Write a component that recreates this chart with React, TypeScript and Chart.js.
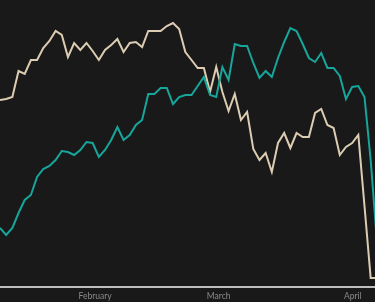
import { useEffect, useRef } from "react";
import { Chart, registerables } from "chart.js";
Chart.register(...registerables);

const monthTicks = [15.4, 35.4, 57.1];
const monthLabels = ["February", "March", "April"];

const beige = [
  187, 188, 190, 216, 213, 227, 227, 239, 246, 256, 252, 230, 244, 237, 244, 236, 227, 237, 242, 248,
  235, 244, 245, 240, 256, 256, 256, 261, 264, 258, 235, 227, 219, 219, 195, 220, 195, 176, 193, 167,
  175, 138, 127, 134, 115, 144, 154, 139, 154, 150, 150, 174, 178, 162, 159, 132, 140, 144, 152, 81,
  9, 9,
];

const teal = [
  59, 52, 59, 74, 87, 92, 110, 118, 121, 127, 136, 135, 132, 137, 145, 144, 130, 137, 147, 160,
  147, 152, 162, 167, 193, 193, 199, 199, 183, 190, 192, 192, 201, 210, 192, 190, 220, 207, 243, 241,
  241, 224, 209, 216, 210, 229, 245, 259, 256, 243, 229, 225, 234, 219, 219, 211, 188, 200, 201, 190,
  127, 47,
];

export default function App() {
  const ref = useRef<HTMLCanvasElement>(null);
  useEffect(() => {
    document.body.style.margin = "0";
    document.body.style.background = "#191919";
    const ctx = ref.current!;
    const chart = new Chart(ctx, {
      type: "line",
      data: {
        datasets: [
          {
            data: teal.map((v, i) => ({ x: i, y: v })),
            borderColor: "#17a69c",
            borderWidth: 2,
            pointRadius: 0,
            tension: 0,
          },
          {
            data: beige.map((v, i) => ({ x: i, y: v })),
            borderColor: "#dccdb2",
            borderWidth: 2,
            pointRadius: 0,
            tension: 0,
          },
        ],
      },
      options: {
        animation: false,
        responsive: false,
        layout: { padding: 0 },
        plugins: { legend: { display: false }, tooltip: { enabled: false } },
        scales: {
          x: {
            type: "linear",
            min: 0,
            max: 60.7,
            grid: { display: false, drawTicks: false },
            border: { display: true, color: "#bdbdbd", width: 2 },
            afterBuildTicks: (scale: any) => {
              scale.ticks = monthTicks.map((v) => ({ value: v }));
            },
            afterFit: (scale: any) => {
              scale.height = 15;
            },
            ticks: {
              autoSkip: false,
              maxRotation: 0,
              padding: 4,
              color: "#8a8a8a",
              font: { family: "Lato", size: 8.5 },
              callback: (value: any) => {
                const k = monthTicks.indexOf(Number(value));
                return k >= 0 ? monthLabels[k] : "";
              },
            },
          },
          y: {
            display: false,
            min: 0,
            max: 287,
          },
        },
      },
    });
    return () => chart.destroy();
  }, []);
  return (
    <div style={{ width: 375, height: 302, background: "#191919" }}>
      <canvas ref={ref} width={375} height={302} style={{ display: "block" }} />
    </div>
  );
}
